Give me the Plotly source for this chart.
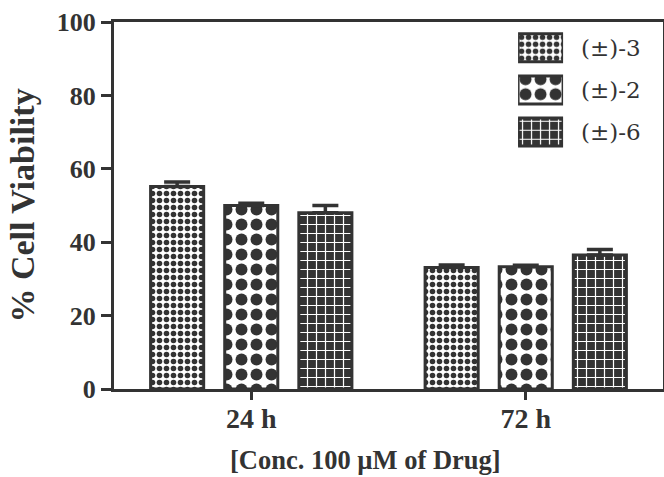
import plotly.graph_objects as go

categories = ["24 h", "72 h"]
series_names = ["(±)-3", "(±)-2", "(±)-6"]
values_3 = [55.2, 33.1]
errors_3 = [1.2, 0.7]
values_2 = [50.0, 33.3]
errors_2 = [0.6, 0.4]
values_6 = [48.0, 36.5]
errors_6 = [2.0, 1.5]
y_ticks = [0, 20, 40, 60, 80, 100]
x_title = "[Conc. 100 µM of Drug]"
y_title = "% Cell Viability"

DARK = "#333333"
FONT = "Liberation Serif"
LEGEND_FONT = "DejaVu Serif"
KEY_LENGTH = 1  # legend key bars span their whole (legend) axis

patterns = [
    dict(shape=".", fgcolor=DARK, bgcolor="white", size=7, solidity=0.5, fillmode="replace"),
    dict(shape=".", fgcolor=DARK, bgcolor="white", size=15, solidity=0.5, fillmode="replace"),
    dict(shape="+", fgcolor="white", bgcolor=DARK, size=9, solidity=0.25, fillmode="replace"),
]

fig = go.Figure()
for name, vals, errs, pat in zip(series_names, [values_3, values_2, values_6],
                                 [errors_3, errors_2, errors_6], patterns):
    fig.add_trace(go.Bar(
        x=categories, y=vals, name=name, showlegend=False,
        marker=dict(color="white", pattern=pat, line=dict(color=DARK, width=3)),
        error_y=dict(type="data", array=errs, arrayminus=[0] * len(errs), symmetric=False,
                     color=DARK, thickness=3.5, width=13),
    ))

# legend drawn as an inset: one patterned key per series, names as tick labels
for name, pat in zip(series_names, patterns):
    fig.add_trace(go.Bar(
        x=[KEY_LENGTH], y=[name], orientation="h", name=name, showlegend=False,
        xaxis="x2", yaxis="y2", width=0.667, offset=-0.333, hoverinfo="skip",
        marker=dict(color="white", pattern=pat, line=dict(color=DARK, width=3)),
    ))

fig.update_layout(
    width=664, height=477,
    margin=dict(l=114, r=1, t=22, b=88),
    paper_bgcolor="white", plot_bgcolor="white",
    barmode="group", bargap=0.19, bargroupgap=0.284,
    font=dict(family=FONT, color=DARK),
    showlegend=False,
    xaxis=dict(
        showline=True, linecolor=DARK, linewidth=3, mirror=True, automargin=False,
        ticks="outside", ticklen=8, tickwidth=3, tickcolor=DARK,
        ticklabelstandoff=-6,
        tickfont=dict(family=FONT, size=28, color=DARK, weight="bold"),
        showgrid=False,
    ),
    yaxis=dict(
        range=[0, 100], tickvals=y_ticks, automargin=False,
        showline=True, linecolor=DARK, linewidth=3, mirror=True,
        ticks="outside", ticklen=10, tickwidth=3, tickcolor=DARK,
        tickfont=dict(family=FONT, size=26, color=DARK, weight="bold"),
        title=dict(text=y_title, standoff=12,
                   font=dict(family=FONT, size=34, color=DARK, weight="bold")),
        showgrid=False, zeroline=False,
    ),
    xaxis2=dict(domain=[0.736, 0.818], anchor="y2", range=[0, KEY_LENGTH],
                visible=False, fixedrange=True),
    yaxis2=dict(domain=[0.643, 0.987], anchor="x2", side="right",
                categoryorder="array", categoryarray=series_names, autorange="reversed",
                showline=False, showgrid=False, zeroline=False, ticks="",
                ticklabelstandoff=17, automargin=False, fixedrange=True,
                tickfont=dict(family=LEGEND_FONT, size=23, color=DARK)),
    annotations=[dict(
        text=x_title, xref="paper", yref="paper", x=0.459, y=-0.238,
        xanchor="center", yanchor="bottom", showarrow=False, borderpad=0,
        font=dict(family=FONT, size=26.5, color=DARK, weight="bold"),
    )],
)

fig.write_html("out.html", config={"displayModeBar": False},
               post_script="document.body.style.margin='0px';")
